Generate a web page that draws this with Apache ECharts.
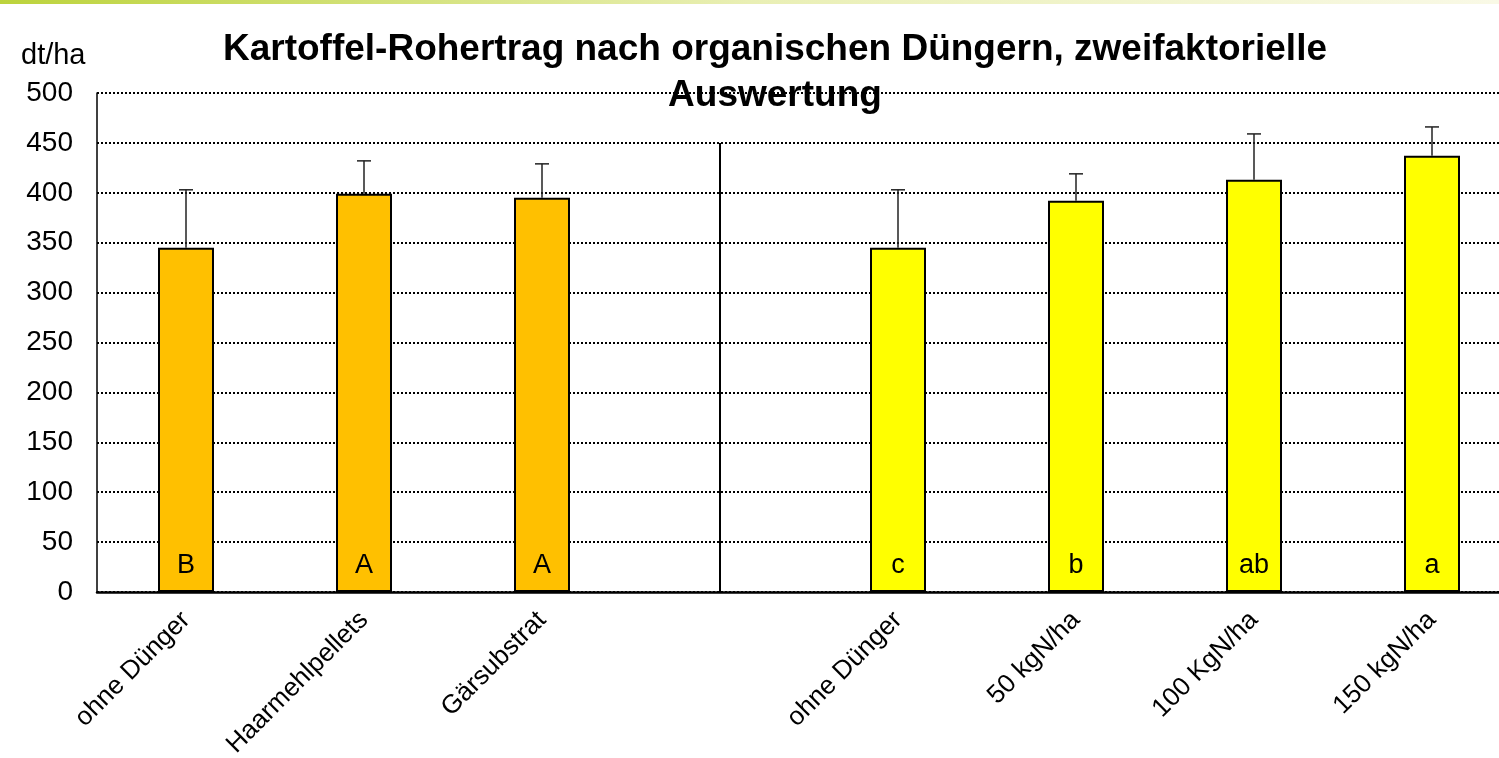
<!DOCTYPE html>
<html>
<head>
<meta charset="utf-8">
<script src="https://cdn.jsdelivr.net/npm/echarts@6/dist/echarts.min.js"></script>
<style>
  html, body { margin: 0; padding: 0; background: #fff; }
  #chart { width: 1499px; height: 758px; }
</style>
</head>
<body>
<div id="chart"></div>
<script>
// Werte (dt/ha)
const categories = ['ohne Dünger', 'Haarmehlpellets', 'Gärsubstrat', '', 'ohne Dünger', '50 kgN/ha', '100 KgN/ha', '150 kgN/ha']
const organicValues = [345, 399, 395]
const organicErrors = [58, 33, 34]
const organicLetters = ['B', 'A', 'A']
const nitrogenValues = [345, 392, 413, 437]
const nitrogenErrors = [58, 27, 46, 29]
const nitrogenLetters = ['c', 'b', 'ab', 'a']
const dividerTop = 450

const gapIndex = organicValues.length
const barValues = [...organicValues, null, ...nitrogenValues]
const errValues = [...organicErrors, null, ...nitrogenErrors]
const letters = [...organicLetters, '', ...nitrogenLetters]

const chart = echarts.init(document.getElementById('chart'))

const barData = barValues.map((v, i) => ({
  value: v,
  itemStyle: { color: i < gapIndex ? '#FFC000' : '#FFFF00' }
}))

const errData = []
barValues.forEach((v, i) => {
  if (v != null) errData.push([i, v, v + errValues[i]])
})

const font = 'Liberation Sans, Arial, sans-serif'

const option = {
  animation: false,
  textStyle: { fontFamily: font },
  graphic: [{
    type: 'rect',
    left: 0,
    top: 0,
    shape: { width: 1499, height: 4 },
    style: {
      fill: new echarts.graphic.LinearGradient(0, 0, 1, 0, [
        { offset: 0, color: '#bcd33c' },
        { offset: 0.5, color: '#e9efb4' },
        { offset: 1, color: '#f9f9e6' }
      ])
    }
  }],
  title: [
    {
      text: 'Kartoffel-Rohertrag nach organischen Düngern, zweifaktorielle\nAuswertung',
      left: 770,
      top: 22,
      textAlign: 'center',
      textStyle: { fontSize: 37, fontWeight: 'bold', color: '#000', lineHeight: 46, fontFamily: font }
    },
    {
      text: 'dt/ha',
      left: 16,
      top: 36,
      textStyle: { fontSize: 29, fontWeight: 'normal', color: '#000', fontFamily: font }
    }
  ],
  grid: {
    left: 97,
    top: 93,
    width: 1424,
    bottom: 166,
    containLabel: false,
    outerBoundsMode: 'none'
  },
  xAxis: {
    type: 'category',
    data: categories,
    axisTick: { show: false },
    axisLine: { lineStyle: { color: '#000', width: 2.5 } },
    axisLabel: {
      rotate: 45,
      interval: 0,
      margin: 24,
      fontSize: 26,
      color: '#000'
    },
    splitLine: { show: false }
  },
  yAxis: {
    type: 'value',
    min: 0,
    max: 500,
    interval: 50,
    axisLine: { show: true, lineStyle: { color: '#000', width: 1.5 } },
    axisTick: { show: false },
    axisLabel: { fontSize: 28, color: '#000', margin: 24 },
    splitLine: { lineStyle: { type: 'dotted', color: '#000', width: 2 } }
  },
  series: [
    {
      type: 'bar',
      data: barData,
      barWidth: 56,
      itemStyle: { borderColor: '#000', borderWidth: 2 },
      label: {
        show: true,
        position: 'insideBottom',
        distance: 13,
        fontSize: 27,
        color: '#000',
        formatter: p => letters[p.dataIndex]
      },
      markLine: {
        silent: true,
        symbol: 'none',
        label: { show: false },
        lineStyle: { color: '#000', width: 2, type: 'solid' },
        data: [[{ coord: [gapIndex, 0] }, { coord: [gapIndex, dividerTop] }]]
      },
      z: 2
    },
    {
      type: 'custom',
      data: errData,
      z: 3,
      renderItem: (params, api) => {
        const base = api.coord([api.value(0), api.value(1)])
        const top = api.coord([api.value(0), api.value(2)])
        const cap = 7
        const style = { stroke: '#222', lineWidth: 1.5 }
        return {
          type: 'group',
          children: [
            { type: 'line', shape: { x1: base[0], y1: base[1], x2: top[0], y2: top[1] }, style },
            { type: 'line', shape: { x1: top[0] - cap, y1: top[1], x2: top[0] + cap, y2: top[1] }, style }
          ]
        }
      }
    }
  ]
}

chart.setOption(option)
</script>
</body>
</html>
